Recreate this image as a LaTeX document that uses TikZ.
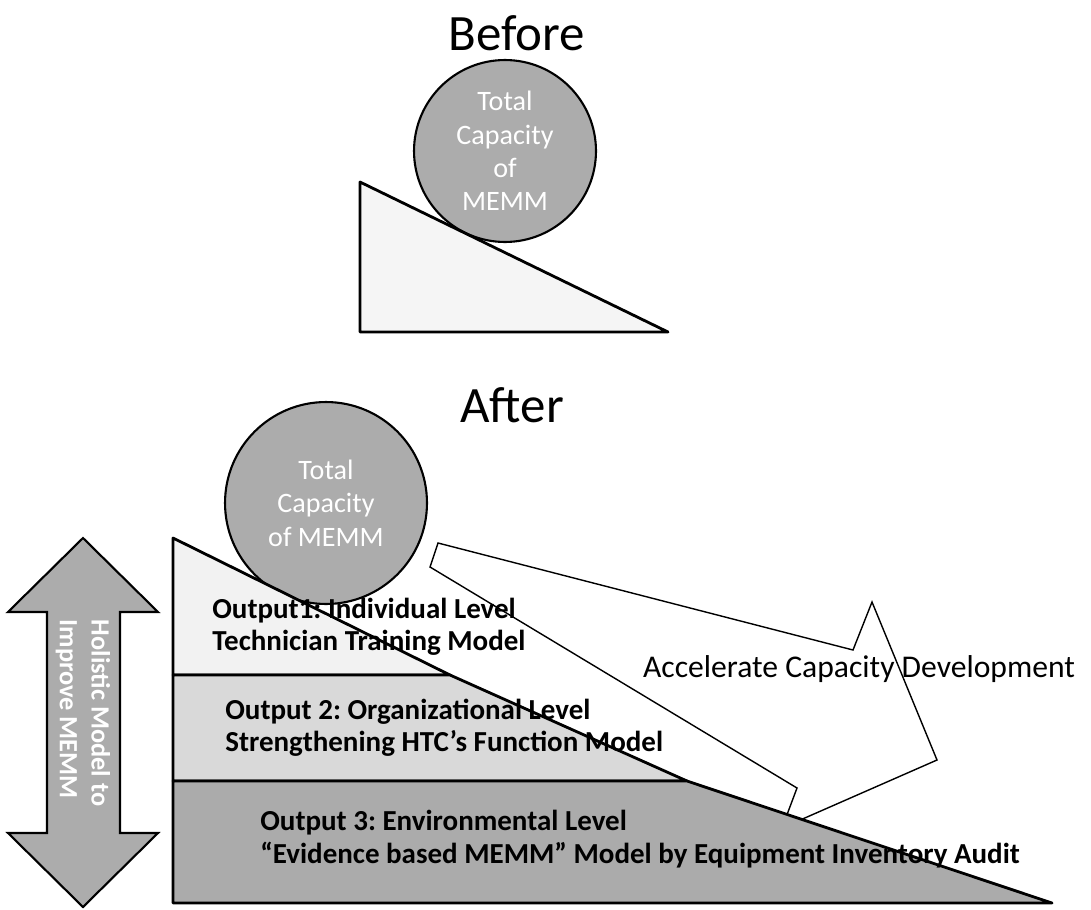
\documentclass[tikz,border=0pt]{standalone}
\usepackage{fontspec}
\setmainfont{Carlito}
\frenchspacing

\begin{document}
\begin{tikzpicture}[x=0.02cm, y=-0.02cm,
  title/.style={font=\fontsize{29}{34}\selectfont},
  ball/.style={circle, draw, line width=1.2pt, fill=gray!65, text=white, inner sep=0pt, align=center, font=\fontsize{16}{19}\selectfont},
  band/.style={draw, line width=1.6pt, line join=round},
  lvl/.style={anchor=west, align=left, inner sep=0pt, font=\bfseries\fontsize{16.5}{18.5}\selectfont}]
\useasboundingbox (0,0) rectangle (1091,909);

% Before
\node[title] (before) at (517,33) {Before};
\node[ball, minimum size=3.64cm] (capbefore) at (505,151) {Total\\Capacity\\of\\MEMM};
\draw[band, fill=gray!8] (360,182) -- (360,332) -- (668,332) -- cycle;

% After
\node[title] (after) at (512,405) {After};

% Arrow
\draw[thick, fill=white] (438,543) -- (853,650) -- (872,602) -- (937,760) -- (782,828) -- (797,788) -- (430,567) -- cycle;
\node[font=\fontsize{18}{21}\selectfont] (accel) at (859,669) {Accelerate Capacity Development};

\node[ball, minimum size=4.04cm] (capafter) at (326,503) {Total\\Capacity\\of MEMM};

% Levels
\draw[band, fill=gray!10] (173,538) -- (450,675) -- (173,675) -- cycle;
\draw[band, fill=gray!30] (173,675) -- (450,675) -- (687,781) -- (173,781) -- cycle;
\draw[band, fill=gray!66] (173,781) -- (687,781) -- (1052,903) -- (173,903) -- cycle;

\node[lvl] (out1) at (212,627) {Output1: Individual Level\\Technician Training Model};
\node[lvl] (out2) at (225,728) {Output 2: Organizational Level\\Strengthening HTC’s Function Model};
\node[lvl] (out3) at (260,839) {Output 3: Environmental Level\\“Evidence based MEMM” Model by Equipment Inventory Audit};

% Holistic arrow
\draw[line width=1.2pt, fill=gray!65] (83,538) -- (158,612) -- (120,612) -- (120,833) -- (158,833) -- (83,907) -- (8,833) -- (47,833) -- (47,612) -- (8,612) -- cycle;
\node[rotate=-90, align=left, text=white, font=\bfseries\fontsize{15}{18}\selectfont] (holistic) at (83,713) {Holistic Model to\\Improve MEMM};
\end{tikzpicture}
\end{document}
